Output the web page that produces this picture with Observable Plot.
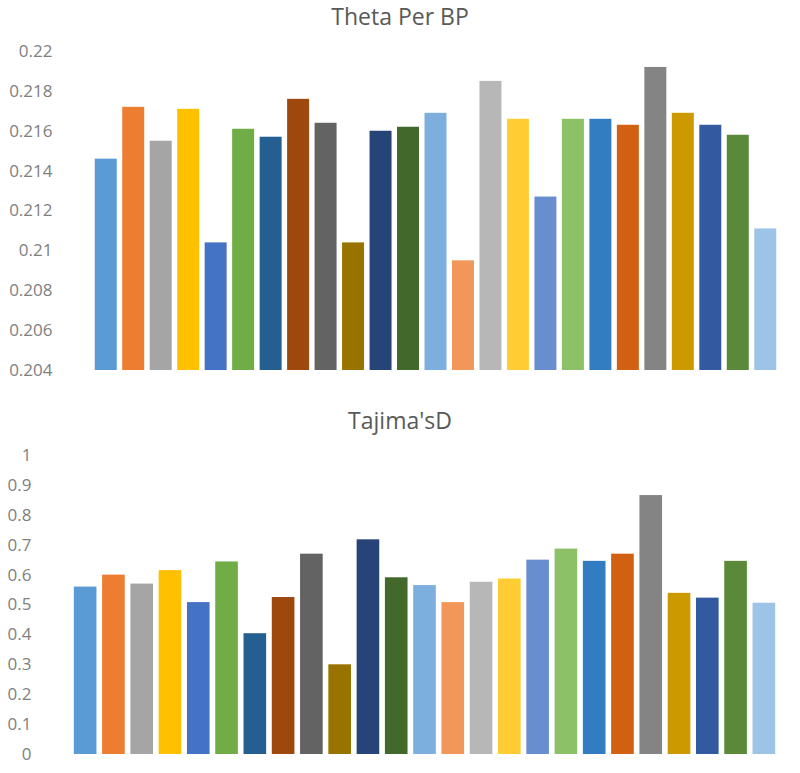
<!DOCTYPE html>
<html>
<head>
<meta charset="utf-8">
<script src="https://cdn.jsdelivr.net/npm/d3@7"></script>
<script src="https://cdn.jsdelivr.net/npm/@observablehq/plot@0.6"></script>
<style>
  body { margin: 0; background: #fff; font-family: "Open Sans", "Liberation Sans", sans-serif; }
  #wrap { width: 800px; }
  .title { text-align: center; color: #595959; font-size: 23px; }
  #t1 { height: 32px; line-height: 32px; }
  #t2 { height: 32px; line-height: 32px; padding-top: 14px; }
  svg { display: block; }
</style>
</head>
<body>
<div id="wrap">
  <div class="title" id="t1">Theta Per BP</div>
  <div id="c1"></div>
  <div class="title" id="t2">Tajima'sD</div>
  <div id="c2"></div>
</div>
<script>
const samples = ["S1","S2","S3","S4","S5","S6","S7","S8","S9","S10","S11","S12","S13","S14","S15","S16","S17","S18","S19","S20","S21","S22","S23","S24","S25"];
const thetaPerBP = [0.2146,0.2172,0.2155,0.2171,0.2104,0.2161,0.2157,0.2176,0.2164,0.2104,0.2160,0.2162,0.2169,0.2095,0.2185,0.2166,0.2127,0.2166,0.2166,0.2163,0.2192,0.2169,0.2163,0.2158,0.2111];
const tajimasD = [0.56,0.60,0.57,0.615,0.508,0.644,0.404,0.525,0.67,0.30,0.718,0.591,0.565,0.508,0.576,0.587,0.65,0.687,0.646,0.67,0.866,0.539,0.523,0.646,0.506];
const thetaBase = 0.204;
const thetaTicks = [0.204,0.206,0.208,0.21,0.212,0.214,0.216,0.218,0.22];
const thetaTickLabels = ["0.204","0.206","0.208","0.21","0.212","0.214","0.216","0.218","0.22"];
const tajimaTicks = [0,0.1,0.2,0.3,0.4,0.5,0.6,0.7,0.8,0.9,1];
const tajimaTickLabels = ["0","0.1","0.2","0.3","0.4","0.5","0.6","0.7","0.8","0.9","1"];
const palette = ["#5B9BD5","#ED7D31","#A5A5A5","#FFC000","#4472C4","#70AD47","#255E91","#9E480E","#636363","#997300","#264478","#43682B","#7CAFDD","#F1975A","#B7B7B7","#FFCD33","#698ED0","#8CC168","#327DC2","#D26012","#848484","#CC9A00","#335AA1","#5A8A39","#9DC3E6"];

const theta = samples.map((s, i) => ({s, v: thetaPerBP[i], c: palette[i]}));
const tajima = samples.map((s, i) => ({s, v: tajimasD[i], c: palette[i]}));

const font = "'Open Sans', 'Liberation Sans', sans-serif";

const p1 = Plot.plot({
  width: 800, height: 358,
  marginTop: 19, marginBottom: 20, marginLeft: 92, marginRight: 21,
  style: {fontFamily: font, fontSize: "17px", color: "#808080", background: "#fff"},
  x: {domain: samples, paddingInner: 0.2, paddingOuter: 0.1, round: false, axis: null},
  y: {domain: [0.204, 0.22], ticks: thetaTicks, tickFormat: (d) => thetaTickLabels[thetaTicks.indexOf(d)], tickSize: 0, tickPadding: 40, label: null},
  marks: [
    Plot.barY(theta, {x: "s", y1: () => thetaBase, y2: "v", fill: (d) => d.c})
  ]
});
document.getElementById("c1").appendChild(p1);

const p2 = Plot.plot({
  width: 800, height: 333,
  marginTop: 19, marginBottom: 15, marginLeft: 71, marginRight: 22,
  style: {fontFamily: font, fontSize: "17px", color: "#808080", background: "#fff"},
  x: {domain: samples, paddingInner: 0.2, paddingOuter: 0.1, round: false, axis: null},
  y: {domain: [0, 1], ticks: tajimaTicks, tickFormat: (d) => tajimaTickLabels[tajimaTicks.indexOf(d)], tickSize: 0, tickPadding: 40, label: null},
  marks: [
    Plot.barY(tajima, {x: "s", y: "v", fill: (d) => d.c})
  ]
});
document.getElementById("c2").appendChild(p2);
</script>
</body>
</html>
